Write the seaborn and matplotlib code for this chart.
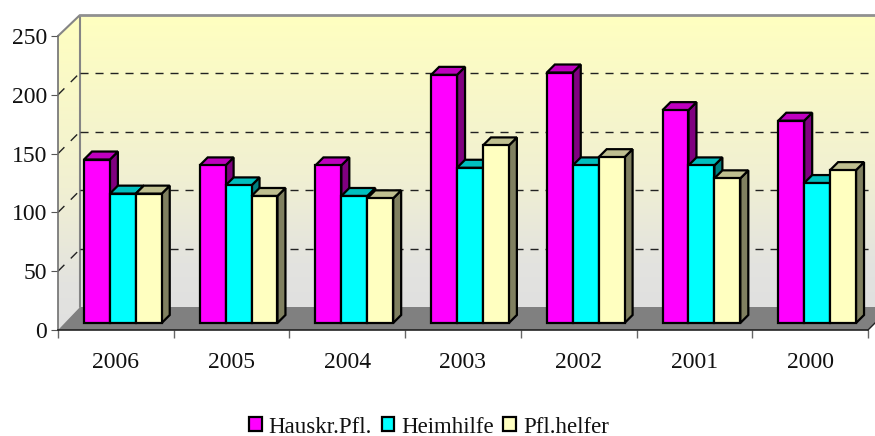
import numpy as np
import pandas as pd
import matplotlib
matplotlib.use("Agg")
import matplotlib.pyplot as plt
from matplotlib.colors import LinearSegmentedColormap
from matplotlib.patches import Polygon
from matplotlib.transforms import Affine2D, IdentityTransform
import seaborn as sns

years = ["2006", "2005", "2004", "2003", "2002", "2001", "2000"]
hauskr = [139, 134, 134, 211, 213, 181, 172]
heimhilfe = [110, 117, 108, 132, 134, 134, 119]
pflhelfer = [110, 108, 106, 151, 141, 123, 130]
series_names = ["Hauskr.Pfl.", "Heimhilfe", "Pfl.helfer"]
front_colors = ["#FF00FF", "#00FFFF", "#FFFFC0"]
top_colors = ["#BF00BF", "#00BFBF", "#BFBF90"]
side_colors = ["#800080", "#008080", "#808060"]
yticks = [0, 50, 100, 150, 200, 250]

sns.set_theme(style="white")
plt.rcParams["font.family"] = ["Liberation Serif", "DejaVu Serif"]
plt.rcParams["text.color"] = "#111111"

W, H = 875, 436
fig = plt.figure(figsize=(W / 100, H / 100), dpi=100, facecolor="white")

# Walls and floor, laid out in image pixels
bg = fig.add_axes([0, 0, 1, 1], zorder=0)
wall_cmap = LinearSegmentedColormap.from_list(
    "wall", [(0, "#FFFFC0"), (0.55, "#F1F0D2"), (0.85, "#E3E3DF"), (1, "#E0E0E0")])
grad = np.linspace(0, 1, 256).reshape(-1, 1)
back_pts = [(80, 15), (880, 15), (880, 307), (80, 307)]
left_pts = [(58, 36), (80, 15), (80, 307), (58, 330)]
floor_pts = [(58, 330), (80, 307), (892, 307), (868, 330)]
for pts, extent in [(back_pts, (80, 880, 307, 15)), (left_pts, (58, 80, 330, 15))]:
    im = bg.imshow(grad, cmap=wall_cmap, aspect="auto", extent=extent)
    im.set_clip_path(Polygon(pts, transform=bg.transData))
bg.add_patch(Polygon(floor_pts, closed=True, fc="#808080", ec="none"))
bg.plot([58, 80, 80], [36, 15, 307], color="#858585", lw=1.5, solid_joinstyle="miter")
bg.plot([80, 880], [15, 15], color="#909090", lw=2.0)
bg.plot([868, 880], [330, 318], color="#222222", lw=1.0)
bg.set_xlim(0, W)
bg.set_ylim(H, 0)
bg.axis("off")

# Front plane axes
ax = fig.add_axes([58 / W, (H - 330) / H, 810 / W, 294 / H], zorder=1)
ax.patch.set_visible(False)

df = pd.DataFrame({
    "year": years * 3,
    "series": np.repeat(series_names, len(years)),
    "value": hauskr + heimhilfe + pflhelfer,
})
sns.barplot(data=df, x="year", y="value", hue="series", order=years, hue_order=series_names,
            palette=front_colors, saturation=1, width=0.672, gap=0, edgecolor="black",
            linewidth=1.6, ax=ax, legend=True)

ax.set_xlim(-0.5, len(years) - 0.5)
ax.set_ylim(0, 250)
ax.set_xlabel("")
ax.set_ylabel("")
handles, labels = ax.get_legend_handles_labels()

# Back-wall and left-wall grid lines follow the axis scale
WALL = 22
for v in yticks[1:-1]:
    x0, y0 = ax.transData.transform((-0.5, v))
    ax.plot([x0 + WALL, W + 5], [y0 + WALL, y0 + WALL], transform=IdentityTransform(),
            color="#222222", lw=1.0, linestyle=(0, (5.8, 5.0)), clip_on=False, zorder=1)
    ax.plot([x0, x0 + WALL - 1], [y0, y0 + WALL - 1], transform=IdentityTransform(),
            color="#222222", lw=1.0, linestyle=(0, (6.5, 6.5)), clip_on=False, zorder=1)

# Pseudo-3D extrusion derived from each bar
SHIFT, DEPTH = 7, 8
shift_tf = ax.transData + Affine2D().translate(SHIFT, SHIFT)
bars = []
for idx, cont in enumerate(ax.containers):
    for b in cont:
        bars.append((b.get_x(), idx, b))
bars.sort(key=lambda t: t[0])
for order, (_, idx, b) in enumerate(bars):
    b.set_transform(shift_tf)
    b.set_clip_on(False)
    z = 3 + order * 0.01
    b.set_zorder(z + 0.002)
    b.set_joinstyle("miter")
    x0, y0 = shift_tf.transform((b.get_x(), 0))
    x1, y1 = shift_tf.transform((b.get_x() + b.get_width(), b.get_height()))
    side = [(x1, y0), (x1 + DEPTH, y0 + DEPTH), (x1 + DEPTH, y1 + DEPTH), (x1, y1)]
    top = [(x0, y1), (x0 + DEPTH, y1 + DEPTH), (x1 + DEPTH, y1 + DEPTH), (x1, y1)]
    for pts, col in [(side, side_colors[idx]), (top, top_colors[idx])]:
        ax.add_patch(Polygon(pts, closed=True, fc=col, ec="black", lw=1.6, joinstyle="miter",
                             transform=IdentityTransform(), clip_on=False, zorder=z))

# Axes styling
sns.despine(ax=ax, top=True, right=True)
ax.spines["left"].set_color("#707070")
ax.spines["left"].set_linewidth(1.2)
ax.spines["bottom"].set_color("#222222")
ax.spines["bottom"].set_linewidth(1.2)
ax.set_yticks(yticks)
ax.tick_params(axis="y", which="major", left=True, length=5, width=0.8, color="#555555",
               labelsize=17, pad=3, labelcolor="#111111")
ax.set_xticks(np.arange(-0.5, len(years)), minor=True)
ax.tick_params(axis="x", which="minor", bottom=True, length=6, width=1.0, color="#666666")
ax.tick_params(axis="x", which="major", bottom=False, length=0, labelsize=17, pad=16,
               labelcolor="#111111")

leg = ax.legend(handles, labels, ncols=3, frameon=False, loc="center", fontsize=16.5,
                bbox_to_anchor=(429 / W, (H - 427) / H), bbox_transform=fig.transFigure,
                handlelength=0.55, handleheight=0.55, handletextpad=0.3, columnspacing=0.42,
                borderpad=0, borderaxespad=0)
for t in leg.get_texts():
    t.set_color("#111111")

fig.savefig("out.png", dpi=100)
